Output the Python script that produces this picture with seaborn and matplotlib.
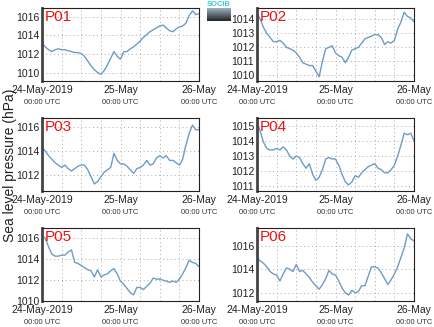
import numpy as np
import pandas as pd
import matplotlib
matplotlib.use("Agg")
import matplotlib.pyplot as plt
import matplotlib.dates as mdates
import matplotlib.transforms as mtransforms
import seaborn as sns

sns.set_theme(style="white")
plt.rcParams['font.family'] = ['Liberation Sans', 'DejaVu Sans']

station_names = ["P01", "P02", "P03", "P04", "P05", "P06"]

p01 = [1013.2, 1012.8, 1012.5, 1012.3, 1012.5, 1012.6, 1012.5, 1012.5, 1012.4, 1012.3,
       1012.2, 1012.2, 1012.1, 1011.8, 1011.3, 1010.8, 1010.4, 1010.1, 1009.9, 1010.3,
       1010.9, 1011.6, 1012.3, 1011.8, 1011.5, 1012.3, 1012.3, 1012.6, 1012.8, 1013.1,
       1013.4, 1013.8, 1014.1, 1014.4, 1014.6, 1014.8, 1015.0, 1015.1, 1014.8, 1014.5,
       1014.4, 1014.7, 1014.9, 1015.0, 1015.3, 1016.1, 1016.6, 1016.2, 1016.3]
p02 = [1014.4, 1014.0, 1013.4, 1013.0, 1012.7, 1012.4, 1012.4, 1012.5, 1012.3, 1012.0,
       1011.9, 1011.8, 1011.6, 1011.3, 1010.9, 1010.8, 1010.7, 1010.7, 1010.3, 1009.9,
       1011.0, 1011.9, 1012.0, 1012.1, 1011.6, 1011.4, 1011.3, 1010.9, 1011.3, 1011.8,
       1011.9, 1012.0, 1012.3, 1012.6, 1012.7, 1012.8, 1012.9, 1012.9, 1012.7, 1012.2,
       1012.4, 1012.3, 1012.5, 1013.3, 1013.8, 1014.5, 1014.2, 1014.1, 1013.8]
p03 = [1014.3, 1014.0, 1013.6, 1013.3, 1013.0, 1012.8, 1012.6, 1012.8, 1012.5, 1012.3,
       1012.5, 1012.7, 1012.8, 1012.8, 1012.4, 1011.8, 1011.2, 1011.4, 1011.8, 1012.2,
       1012.4, 1012.6, 1013.8, 1013.2, 1012.9, 1012.9, 1012.7, 1012.4, 1012.1, 1012.5,
       1012.6, 1012.8, 1013.2, 1012.8, 1012.9, 1013.4, 1013.6, 1013.4, 1013.6, 1013.2,
       1013.2, 1013.0, 1012.8, 1013.3, 1014.5, 1015.5, 1016.2, 1015.8, 1015.8]
p04 = [1015.3, 1014.6, 1013.9, 1013.5, 1013.4, 1013.4, 1013.5, 1013.4, 1013.6, 1013.4,
       1013.0, 1012.8, 1013.0, 1012.9, 1012.5, 1012.2, 1012.5, 1011.8, 1011.4, 1011.6,
       1012.1, 1012.8, 1012.9, 1012.8, 1012.8, 1012.4, 1011.8, 1011.3, 1011.1, 1011.3,
       1011.7, 1011.6, 1011.9, 1012.1, 1012.3, 1012.4, 1012.5, 1012.2, 1012.1, 1011.9,
       1011.9, 1012.1, 1012.4, 1013.0, 1013.7, 1014.5, 1014.4, 1014.5, 1014.0]
p05 = [1016.3, 1016.0, 1015.2, 1014.5, 1014.3, 1014.3, 1014.4, 1014.4, 1014.7, 1014.9,
       1013.7, 1013.6, 1013.4, 1013.2, 1013.0, 1012.9, 1012.3, 1013.0, 1012.3, 1012.5,
       1012.6, 1012.9, 1013.1, 1012.6, 1011.9, 1011.6, 1011.2, 1010.8, 1010.6, 1011.3,
       1011.3, 1011.1, 1011.4, 1011.7, 1012.2, 1012.1, 1012.1, 1012.0, 1011.9, 1011.8,
       1011.9, 1011.8, 1012.1, 1012.6, 1013.2, 1013.9, 1013.7, 1013.6, 1013.3]
p06 = [1015.0, 1014.7, 1014.5, 1014.2, 1013.8, 1013.6, 1013.5, 1013.0, 1013.6, 1014.1,
       1014.0, 1013.8, 1014.4, 1013.8, 1013.9, 1013.6, 1013.3, 1012.9, 1012.6, 1012.3,
       1012.7, 1013.2, 1013.9, 1013.6, 1013.5, 1013.0, 1012.4, 1012.0, 1011.8, 1012.2,
       1012.0, 1012.1, 1012.6, 1012.6, 1013.4, 1014.2, 1014.2, 1014.1, 1013.7, 1013.2,
       1012.7, 1013.1, 1013.6, 1014.2, 1015.0, 1015.8, 1017.0, 1016.6, 1016.4]

series = [p01, p02, p03, p04, p05, p06]
y_limits = [(1009.2, 1016.9), (1009.6, 1014.8), (1010.6, 1016.8),
            (1010.7, 1015.5), (1010.0, 1017.0), (1011.3, 1017.5)]
y_ticks = [[1010, 1012, 1014, 1016], [1010, 1011, 1012, 1013, 1014], [1012, 1014, 1016],
           [1011, 1012, 1013, 1014, 1015], [1010, 1012, 1014, 1016], [1012, 1014, 1016]]
x_tick_labels = ["24-May-2019", "25-May", "26-May"]
x_sub_label = "00:00 UTC"
y_label = "Sea level pressure (hPa)"

times = pd.date_range("2019-05-24 00:00", "2019-05-26 00:00", freq="h")
major_times = pd.to_datetime(["2019-05-24", "2019-05-25", "2019-05-26"])

fig = plt.figure(figsize=(4.34, 3.27), dpi=100)
lefts = [42 / 434, 257 / 434]
bottoms = [1 - 81 / 327, 1 - 191 / 327, 1 - 301 / 327]
w = 157 / 434
h = 73 / 327

line_color = "#6f9bc6"
for i, (name, vals) in enumerate(zip(station_names, series)):
    r, c = divmod(i, 2)
    ax = fig.add_axes([lefts[c], bottoms[r], w, h])
    df = pd.DataFrame({"time": times, "pressure": vals})
    sns.lineplot(data=df, x="time", y="pressure", ax=ax, color=line_color, linewidth=1.0)
    ax.set_xlim(times[0], times[-1])
    ax.set_ylim(*y_limits[i])
    ax.set_yticks(y_ticks[i])
    ax.set_yticklabels([str(v) for v in y_ticks[i]], fontsize=7.5, color="#222222")
    ax.set_xticks(major_times)
    ax.set_xticklabels(x_tick_labels, fontsize=7.5, color="#222222")
    ax.xaxis.set_minor_locator(mdates.HourLocator(byhour=[0, 6, 12, 18]))
    ax.tick_params(axis="y", which="both", length=0, pad=2)
    ax.tick_params(axis="x", which="both", length=0, pad=3)
    ax.grid(True, which="both", axis="x", linestyle=(0, (1, 3)), color="#aaaaaa", linewidth=0.7)
    ax.grid(True, which="major", axis="y", linestyle=(0, (1, 3)), color="#aaaaaa", linewidth=0.7)
    ax.set_xlabel("")
    ax.set_ylabel("")
    for s in ["top", "right", "bottom"]:
        ax.spines[s].set_color("#222222")
        ax.spines[s].set_linewidth(0.8)
    ax.spines["left"].set_color("#444444")
    ax.spines["left"].set_linewidth(2.0)
    ax.text(0.015, 0.97, name, transform=ax.transAxes, color="#ee1111",
            fontsize=11, va="top", ha="left")
    trans = mtransforms.blended_transform_factory(ax.transData, ax.transAxes)
    for t in major_times:
        ax.text(mdates.date2num(t), -0.25, x_sub_label, transform=trans,
                fontsize=5.5, ha="center", va="top", color="#333333")

fig.text(10 / 434, 1 - 165 / 327, y_label, rotation=90, ha="center", va="center",
         fontsize=10, color="#222222")

# logo
lax = fig.add_axes([207 / 434, 1 - 21 / 327, 24 / 434, 13 / 327])
grad = np.linspace(0, 1, 20).reshape(-1, 1)
lax.imshow(grad, aspect="auto", cmap=sns.dark_palette("#9ab0c0", as_cmap=True, reverse=True))
lax.axis("off")
fig.text(219 / 434, 1 - 4 / 327, "SOCIB", ha="center", va="center", fontsize=5.5,
         color="#40c8e0", fontweight="bold")

fig.savefig("out.png", dpi=100)
